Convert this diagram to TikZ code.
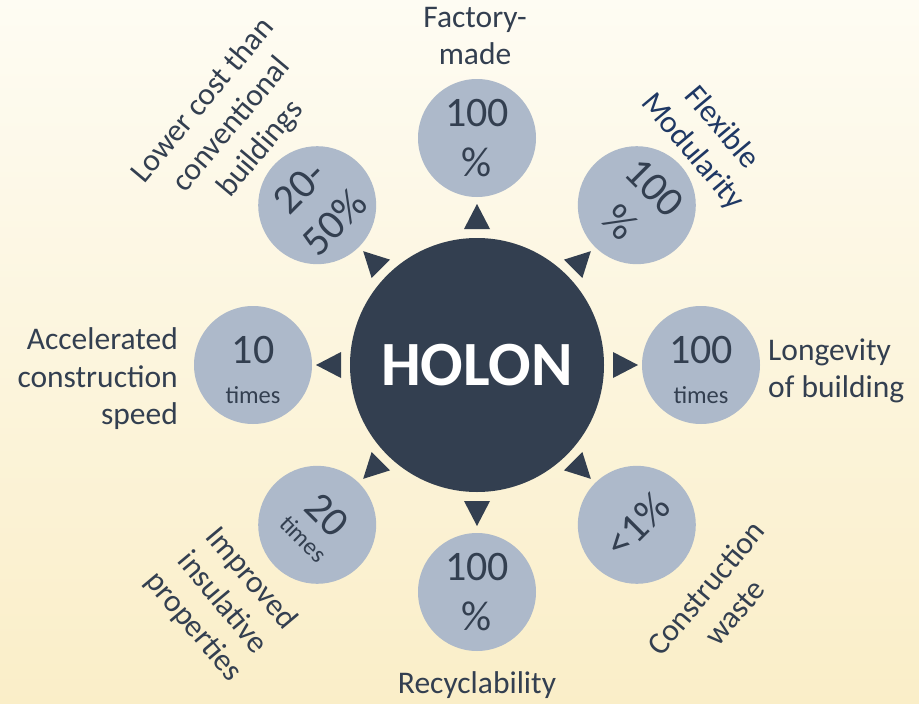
\documentclass[tikz,border=0pt]{standalone}
\usepackage{fontspec}
\setmainfont{Carlito}
\usetikzlibrary{calc}
\definecolor{bgtop}{HTML}{FEFCF3}
\definecolor{bgbot}{HTML}{FAEEC8}
\definecolor{dark}{HTML}{333F50}
\definecolor{light}{HTML}{ADB9CA}
\definecolor{navy}{HTML}{1F3864}
\begin{document}
\begin{tikzpicture}[x=1pt,y=1pt,
  big/.style={circle, fill=dark, minimum size=254pt, inner sep=0pt, text=white,
    font=\fontsize{63}{70}\selectfont\bfseries},
  small/.style={circle, fill=light, minimum size=118pt, inner sep=0pt, text=dark, align=center},
  num/.style={font=\fontsize{42}{50}\selectfont},
  numt/.style={font=\fontsize{24.5}{24.5}\selectfont},
  intext/.style={text=dark, align=center, inner sep=0pt},
  lab/.style={text=dark, align=center, font=\fontsize{31.5}{37.5}\selectfont, inner sep=0pt},
  tri/.style={fill=dark}]
\shade[top color=bgtop, bottom color=bgbot] (0,0) rectangle (919,-704);
\useasboundingbox (0,0) rectangle (919,-704);
\coordinate (C) at (477,-365);
\node[big] (holon) at (C) {HOLON};
% small circles
\node[small, num] (s90) at ($(C)+(90:227)$) {100\\\%};
\node[small, num, rotate=-45] (s45) at ($(C)+(45:226)$) {100\\\%};
\node[small] (s0) at ($(C)+(0:224)$) {};
\node[intext, numt, yshift=-5pt] (t0) at (s0) {{\fontsize{42}{42}\selectfont 100}\\[15pt]times};
\node[small, num, rotate=45] (sm45) at ($(C)+(-45:226)$) {<1\%};
\node[small, num] (sm90) at ($(C)+(-90:227)$) {100\\\%};
\node[small, numt, rotate=-45] (sm135) at ($(C)+(-135:226)$) {{\fontsize{42}{42}\selectfont 20}\\[4pt]times};
\node[small] (s180) at ($(C)+(180:224)$) {};
\node[intext, numt, yshift=-5pt] (t180) at (s180) {{\fontsize{42}{42}\selectfont 10}\\[15pt]times};
\node[small, num, rotate=45] (s135) at ($(C)+(135:226)$) {20-\\50\%};
% triangles
\foreach \a in {90,45,0,-45,-90,-135,180,135}
  \fill[tri, shift={(C)}, rotate=\a] (136,13) -- (161,0) -- (136,-13) -- cycle;
% labels
\node[lab] (l90) at (475,-36) {Factory-\\made};
\node[lab, text=navy, rotate=-50] (l45) at (707,-140) {Flexible\\Modularity};
\node[lab, anchor=west, align=left] (l0) at (768,-371) {Longevity\\of building};
\node[lab, rotate=50] (lm45) at (720,-600) {Construction\\waste};
\node[lab] (lm90) at (477,-685) {Recyclability};
\node[lab, rotate=-50] (lm135) at (222,-603) {Improved\\insulative\\properties};
\node[lab, anchor=east, align=right] (l180) at (178,-379) {Accelerated\\construction\\speed};
\node[lab, rotate=50] (l135) at (232,-125) {Lower cost than\\conventional\\buildings};
\end{tikzpicture}
\end{document}
